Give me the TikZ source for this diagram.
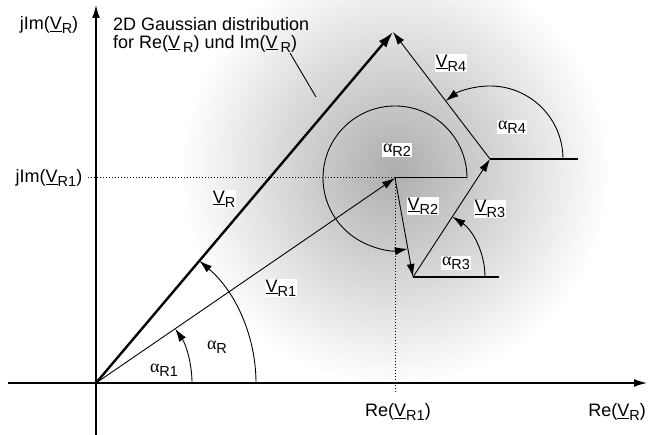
\documentclass[tikz,border=0pt]{standalone}
\usepackage{fontspec}
\setmainfont{Liberation Sans}
\newfontfamily\greekfont{Liberation Serif}
\usetikzlibrary{arrows.meta,calc}

\newcommand{\lowsub}[1]{\raisebox{-0.45ex}{\fontsize{14.5}{14.5}\selectfont #1}}
\newcommand{\ulV}[1]{\underline{V}\lowsub{#1}}
\newcommand{\angR}[1]{{\greekfont α}\lowsub{#1}}

\begin{document}
\begin{tikzpicture}[x=1pt, y=1pt,
        tip/.style={-{Latex[length=13pt,width=8pt]}},
        axis/.style={line width=1.6pt, tip},
        vec/.style={line width=0.9pt, tip},
        sumvec/.style={line width=2.4pt, -{Latex[length=16pt,width=10pt]}},
        angarc/.style={line width=0.9pt, tip},
        refline/.style={line width=1.8pt},
        helpline/.style={dotted, line width=1pt},
        lbl/.style={font=\fontsize{18}{18}\selectfont, inner sep=1pt},
        vlbl/.style={lbl, fill=white},
    ]
    \useasboundingbox (0,0) rectangle (648,435);

    % gaussian cloud
    \shade[inner color=black!32, outer color=white] (395,265) circle (215);

    % points
    \coordinate (O)  at (96,52);
    \coordinate (R1) at (395,257);
    \coordinate (R2) at (413,158);
    \coordinate (R3) at (490,276);
    \coordinate (R)  at (393,403);
    \coordinate (xl) at (8,52);
    \coordinate (xr) at (647,52);
    \coordinate (yb) at (96,0);
    \coordinate (yt) at (96,430);
    \coordinate (imR1) at (88,257);
    \coordinate (reR1) at (395,43);
    \coordinate (ref2) at (467,257);
    \coordinate (ref3) at (499,158);
    \coordinate (ref4) at (578,276);
    \coordinate (lead1) at (290,382);
    \coordinate (lead2) at (316,338);

    % axes
    \draw[axis] (xl) -- (xr);
    \draw[axis] (yb) -- (yt);

    % projections
    \draw[helpline] (imR1) -- (R1);
    \draw[helpline] (R1) -- (reR1);

    % reference lines for the angles
    \draw[line width=1pt] (R1) -- (ref2);
    \draw[refline] (R2) -- (ref3);
    \draw[refline] (R3) -- (ref4);

    % vectors
    \draw[sumvec] (O) -- (R);
    \draw[vec] (O) -- (R1);
    \draw[vec] (R1) -- (R2);
    \draw[vec] (R2) -- (R3);
    \draw[vec] (R3) -- (R);
    \draw[line width=0.9pt] (lead1) -- (lead2);

    % angles
    \draw[angarc] ($(O)+(96,0)$)  arc[start angle=0, end angle=34.4, radius=96];
    \draw[angarc] ($(O)+(160,0)$) arc[start angle=0, end angle=49.8, radius=160];
    \draw[angarc] (ref2) arc[start angle=0, end angle=280.3, radius=72];
    \draw[angarc] ($(R2)+(72,0)$) arc[start angle=0, end angle=56.9, radius=72];
    \draw[angarc] ($(R3)+(73,0)$) arc[start angle=0, end angle=127.4, radius=73];

    % labels
    \node[lbl] (imVR)  at (49,410)  {jIm(\ulV{R})};
    \node[lbl] (imVR1) at (49,257)  {jIm(\ulV{R1})};
    \node[lbl] (reVR1) at (398,23)  {Re(\ulV{R1})};
    \node[lbl] (reVR)  at (617,23)  {Re(\ulV{R})};
    \node[lbl, align=left, anchor=north west] (gauss) at (112,419)
        {2D Gaussian distribution\\for Re(\underline{V}\,\lowsub{R}) und Im(\underline{V}\,\lowsub{R})};

    \node[vlbl] (lVR)  at (224,236) {\ulV{R}};
    \node[vlbl] (lVR1) at (281,147) {\ulV{R1}};
    \node[vlbl] (lVR2) at (423,229) {\ulV{R2}};
    \node[vlbl] (lVR3) at (490,226) {\ulV{R3}};
    \node[vlbl] (lVR4) at (451,372) {\ulV{R4}};
    \node[lbl] (aR)  at (217,88)  {\angR{R}};
    \node[lbl] (aR1) at (164,65)  {\angR{R1}};
    \node[vlbl] (aR2) at (397,285) {\angR{R2}};
    \node[vlbl] (aR3) at (456,172) {\angR{R3}};
    \node[vlbl] (aR4) at (512,308) {\angR{R4}};
\end{tikzpicture}
\end{document}
